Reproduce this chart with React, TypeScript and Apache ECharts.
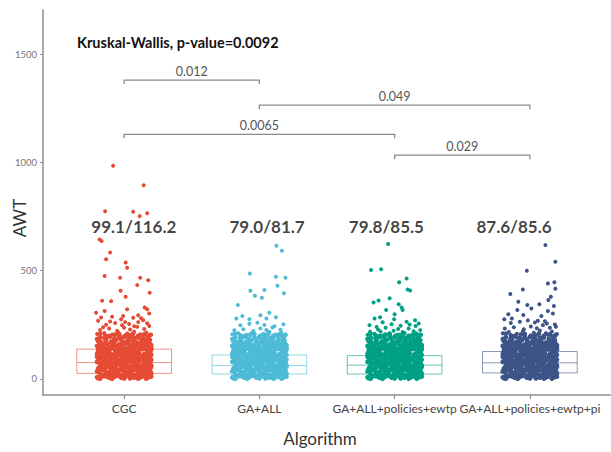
import React, { useEffect, useRef } from 'react';
import * as echarts from 'echarts';

// ---------- data ----------
const categories = ['CGC', 'GA+ALL', 'GA+ALL+policies+ewtp', 'GA+ALL+policies+ewtp+pi'];
const colors = ['#E64B35', '#4DBBD5', '#00A087', '#3C5488'];

// box statistics per category: [q1, median, q3]
const boxQ1 = [25, 22, 22, 27];
const boxMedian = [75, 61, 63, 74];
const boxQ3 = [137, 110, 107, 126];

// mean/median annotations
const statLabels = ['99.1/116.2', '79.0/81.7', '79.8/85.5', '87.6/85.6'];
const statLabelX = [1.072, 2.057, 2.939, 3.883];
const statLabelY = [704, 704, 704, 704];

// pairwise comparison brackets: from category, to category, height, p-value text
const bracketFrom = [1, 2, 1, 3];
const bracketTo = [2, 4, 3, 4];
const bracketY = [1381, 1265, 1130, 1034];
const bracketText = ['0.012', '0.049', '0.0065', '0.029'];

const kruskalText = 'Kruskal-Wallis, p-value=0.0092';

// jitter values are expressed in 1/135 of a category step
const JIT = 0.2 / 27;

// dense core of AWT observations (jitter, AWT), layer 1
const denseJ = [
  -26, -22, -16, -12, -8, -3, 1, 6, 11, 16, 22, 27,
  -24, -20, -17, -11, -6, -1, 3, 8, 13, 18, 21, 25,
  -27, -21, -15, -10, -7, -2, 2, 7, 12, 15, 20, 26,
  -25, -19, -14, -9, -4, 0, 5, 9, 14, 19, 23, 27,
  -24, -20, -17, -11, -6, -1, 3, 8, 13, 18, 21, 25,
  -27, -21, -15, -10, -7, -2, 2, 7, 12, 15, 20, 26,
  -25, -19, -14, -9, -4, 0, 5, 9, 14, 19, 23, 27,
  -26, -22, -16, -12, -8, -3, 1, 6, 11, 16, 22, 27,
  -27, -21, -15, -10, -7, -2, 2, 7, 12, 15, 20, 26,
  -25, -19, -14, -9, -4, 0, 5, 9, 14, 19, 23, 27,
  -26, -22, -16, -12, -8, -3, 1, 6, 11, 16, 22, 27,
  -24, -20, -17, -11, -6, -1, 3, 8, 13, 18, 21, 25,
];
const denseY = [
  3, 11, 7, 0, 13, 5, 9, 2, 12, 6, 1, 10,
  22, 15, 26, 19, 24, 17, 27, 21, 14, 25, 18, 23,
  34, 41, 30, 37, 32, 39, 28, 36, 40, 31, 38, 33,
  52, 46, 50, 55, 43, 49, 53, 45, 51, 42, 48, 54,
  59, 67, 63, 56, 69, 61, 65, 58, 68, 62, 57, 66,
  78, 71, 82, 75, 80, 73, 83, 77, 70, 81, 74, 79,
  90, 97, 86, 93, 88, 95, 84, 92, 96, 87, 94, 89,
  108, 102, 106, 111, 99, 105, 109, 101, 107, 98, 104, 110,
  115, 123, 119, 112, 125, 117, 121, 114, 124, 118, 113, 122,
  134, 127, 138, 131, 136, 129, 139, 133, 126, 137, 130, 135,
  146, 153, 142, 149, 144, 151, 140, 148, 152, 143, 150, 145,
  164, 158, 162, 167, 155, 161, 165, 157, 163, 154, 160, 166,
];
// dense core, layer 2
const dense2J = [
  -27, -24, -19, -14, -10, -5, 0, 5, 10, 14, 19, 24,
  -23, -18, -13, -9, -4, 0, 4, 10, 15, 19, 24, 27,
  -24, -19, -15, -9, -5, 1, 5, 9, 14, 20, 23, 26,
  -26, -23, -18, -13, -8, -3, 2, 6, 11, 17, 23, 25,
  -23, -18, -13, -9, -4, 0, 4, 10, 15, 19, 24, 27,
  -24, -19, -15, -9, -5, 1, 5, 9, 14, 20, 23, 26,
  -26, -23, -18, -13, -8, -3, 2, 6, 11, 17, 23, 25,
  -27, -24, -19, -14, -10, -5, 0, 5, 10, 14, 19, 24,
  -24, -19, -15, -9, -5, 1, 5, 9, 14, 20, 23, 26,
  -26, -23, -18, -13, -8, -3, 2, 6, 11, 17, 23, 25,
  -27, -24, -19, -14, -10, -5, 0, 5, 10, 14, 19, 24,
  -23, -18, -13, -9, -4, 0, 4, 10, 15, 19, 24, 27,
  -26, -23, -18, -13, -8, -3, 2, 6, 11, 17, 23, 25,
  -27, -24, -19, -14, -10, -5, 0, 5, 10, 14, 19, 24,
  -24, -19, -15, -9, -5, 1, 5, 9, 14, 20, 23, 26,
];
const dense2Y = [
  7, 0, 12, 4, 9, 13, 2, 10, 5, 1, 11, 6,
  16, 23, 19, 27, 14, 22, 25, 18, 21, 26, 17, 24,
  40, 33, 29, 36, 39, 31, 34, 41, 30, 37, 28, 35,
  46, 52, 55, 43, 48, 54, 50, 42, 53, 47, 51, 44,
  63, 56, 68, 60, 65, 69, 58, 66, 61, 57, 67, 62,
  72, 79, 75, 83, 70, 78, 81, 74, 77, 82, 73, 80,
  96, 89, 85, 92, 95, 87, 90, 97, 86, 93, 84, 91,
  102, 108, 111, 99, 104, 110, 106, 98, 109, 103, 107, 100,
  119, 112, 124, 116, 121, 125, 114, 122, 117, 113, 123, 118,
  128, 135, 131, 139, 126, 134, 137, 130, 133, 138, 129, 136,
  152, 145, 141, 148, 151, 143, 146, 153, 142, 149, 140, 147,
  158, 164, 167, 155, 160, 166, 162, 154, 165, 159, 163, 156,
  175, 168, 180, 172, 177, 181, 170, 178, 173, 169, 179, 174,
  184, 191, 187, 195, 182, 190, 193, 186, 189, 194, 185, 192,
  208, 201, 197, 204, 207, 199, 202, 209, 198, 205, 196, 203,
];

// upper tail of each category (jitter, AWT)
const cgcUpper = [
  [-25, 172], [-19, 178], [-13, 170], [-8, 183], [-2, 175], [4, 180], [9, 171], [15, 186], [21, 174], [26, 181],
  [-23, 190], [-16, 195], [-10, 188], [-4, 199], [1, 192], [7, 197], [12, 190], [18, 201], [24, 193],
  [-27, 207], [-20, 212], [-12, 205], [-6, 215], [3, 209], [10, 218], [16, 206], [22, 214], [27, 204],
  [-24, 226], [-15, 232], [-7, 222], [0, 236], [6, 228], [13, 240], [20, 230], [25, 244],
  [-18, 250], [-9, 258], [5, 253], [14, 262], [-26, 268], [19, 271], [-3, 275], [9, 282], [-12, 287],
  [-21, 238], [-2, 247], [10, 243], [23, 257], [-14, 265], [1, 262], [-23, 283], [17, 280],
  [-11, 985], [19.5, 895], [-19, 775], [9, 772], [23, 765], [15.5, 752], [-24.5, 644], [-22.5, 637],
  [-14, 584], [-18, 553], [1.5, 538], [3, 513], [-19.5, 475], [-4, 467], [16, 467], [24, 456], [13, 433],
  [-3.5, 407], [25.5, 398], [1.5, 379], [-22, 361], [-13, 359], [20.5, 330], [25, 302], [3, 321],
  [-28, 305], [-19.5, 313], [23, 321], [14, 294], [-1, 290],
];
const gaUpper = [
  [-26, 170], [-20, 176], [-14, 168], [-9, 181], [-3, 173], [2, 179], [8, 170], [14, 184], [19, 175], [25, 182],
  [-24, 189], [-17, 194], [-11, 187], [-5, 198], [0, 191], [6, 196], [11, 188], [17, 200], [23, 192],
  [-27, 206], [-21, 211], [-13, 204], [-7, 214], [4, 208], [10, 217], [16, 205], [22, 213], [26, 203],
  [-25, 224], [-16, 229], [-6, 221], [1, 233], [7, 226], [13, 237], [21, 227],
  [-19, 247], [-10, 254], [5, 249], [15, 243], [-2, 259], [24, 252],
  [17, 615], [22.5, 592], [-9.5, 487], [16.5, 472], [26, 467], [18, 430], [5, 410], [-9, 407],
  [24.5, 395], [-4.5, 384], [2.5, 375], [-21.5, 341], [-23, 279], [-17, 290], [1, 294], [10, 305],
  [16.5, 284], [-10, 275], [7, 279],
];
const ewtpUpper = [
  [-25, 169], [-19, 175], [-13, 171], [-8, 180], [-2, 174], [4, 178], [9, 169], [15, 183], [21, 172], [26, 179],
  [-23, 188], [-16, 192], [-10, 186], [-4, 196], [1, 190], [7, 194], [12, 187], [18, 197], [24, 190],
  [-27, 203], [-20, 208], [-11, 201], [-5, 210], [3, 205], [10, 212], [17, 202], [22, 209],
  [-14, 218], [-1, 222], [8, 216], [19, 220],
  [-18, 240], [6, 245], [-9, 236], [14, 232], [-25, 248], [21, 244], [0, 298], [-3, 252],
  [-6.5, 623], [-23.5, 503], [-13.5, 506], [12, 464], [4.5, 446], [13, 413], [15.5, 408], [-21, 353],
  [-16, 362], [-5, 372], [4, 345], [7, 330], [8, 318], [-8.5, 318], [-20, 279], [-14.5, 284],
  [-0.5, 275], [-12, 261], [12, 264], [20.5, 271], [24, 256], [15, 251], [-24.5, 217], [-16.5, 228],
  [3.5, 230], [25.5, 225], [23, 201],
];
const piUpper = [
  [-26, 172], [-20, 178], [-14, 170], [-8, 184], [-3, 176], [3, 181], [8, 172], [14, 187], [20, 175], [25, 183],
  [-24, 192], [-17, 197], [-11, 190], [-5, 202], [1, 194], [6, 199], [12, 191], [18, 204], [23, 195],
  [-27, 210], [-21, 216], [-13, 208], [-7, 220], [4, 213], [10, 223], [16, 211], [22, 219], [27, 207],
  [-25, 232], [-16, 238], [-6, 229], [1, 242], [7, 234], [13, 248], [20, 236], [25, 251],
  [-19, 258], [-10, 264], [5, 260], [15, 266], [-2, 270],
  [15.5, 618], [25.5, 541], [-3, 499], [18, 441], [24.5, 446], [25.5, 416], [-7, 413], [-19.5, 392],
  [21, 379], [18.5, 364], [-11.5, 356], [9.5, 345], [-2.5, 341], [24, 336], [1.5, 325], [-12.5, 318],
  [18, 313], [-21.5, 298], [-25.5, 275], [-18, 279], [-6.5, 295], [11.5, 290], [23, 302], [8, 268],
  [17, 256], [26, 241],
];
const uppers = [cgcUpper, gaUpper, ewtpUpper, piUpper];

const yTicks = [0, 500, 1000, 1500];
const xTicks = [1, 2, 3, 4];

const FONT = 'Lato, "Open Sans", sans-serif';
const BOX_HALF = 0.35;

function buildOption() {
  const denseSeries = categories.map((name, g) => {
    const pts: number[][] = [];
    for (let i = 0; i < denseY.length; i++) pts.push([g + 1 + denseJ[i] * JIT, denseY[i]]);
    for (let i = 0; i < dense2Y.length; i++) pts.push([g + 1 + dense2J[i] * JIT, dense2Y[i]]);
    return {
      name,
      type: 'scatter',
      data: pts,
      symbolSize: 4.8,
      itemStyle: { color: colors[g], opacity: 1 },
      z: 3,
      silent: true,
    };
  });
  const upperSeries = categories.map((name, g) => ({
    name,
    type: 'scatter',
    data: uppers[g].map(([j, y]) => [g + 1 + j * JIT, y]),
    symbolSize: 4,
    itemStyle: { color: colors[g], opacity: 1 },
    z: 3,
    silent: true,
  }));

  const boxData = categories.map((_, g) => [g + 1, boxQ1[g], boxMedian[g], boxQ3[g]]);
  const bracketData = bracketY.map((y, i) => [bracketFrom[i], bracketTo[i], y]);

  return {
    animation: false,
    backgroundColor: '#ffffff',
    grid: { left: 43, top: 10, width: 569, height: 385 },
    xAxis: {
      type: 'value',
      min: 0.4,
      max: 4.6,
      axisLine: { show: true, onZero: false, lineStyle: { color: '#8f8f8f', width: 1.5 } },
      axisTick: { show: true, customValues: xTicks, length: 4, lineStyle: { color: '#8f8f8f', width: 1.2 } },
      axisLabel: {
        customValues: xTicks,
        formatter: (v: number) => categories[Math.round(v) - 1] || '',
        color: '#444',
        fontSize: 12,
        fontFamily: FONT,
        margin: 7,
        hideOverlap: false,
      },
      splitLine: { show: false },
    },
    yAxis: {
      type: 'value',
      min: -75,
      max: 1705,
      axisLine: { show: true, lineStyle: { color: '#8f8f8f', width: 1.5 } },
      axisTick: { show: true, customValues: yTicks, length: 3, lineStyle: { color: '#8f8f8f', width: 1 } },
      axisLabel: {
        customValues: yTicks,
        formatter: (v: number) => String(v),
        color: '#777',
        fontSize: 9.5,
        fontFamily: FONT,
        margin: 6,
      },
      splitLine: { show: false },
    },
    graphic: [
      {
        type: 'text',
        left: 77,
        top: 35,
        style: { text: kruskalText, fontSize: 14.5, fontWeight: 'bold', fontFamily: FONT, fill: '#111' },
      },
      {
        type: 'text',
        x: 19,
        y: 218,
        rotation: Math.PI / 2,
        style: {
          text: 'AWT',
          fontSize: 17,
          fontFamily: FONT,
          fill: '#333',
          align: 'center',
          verticalAlign: 'middle',
        },
      },
      {
        type: 'text',
        x: 320,
        y: 438,
        style: {
          text: 'Algorithm',
          fontSize: 17,
          fontFamily: FONT,
          fill: '#333',
          align: 'center',
          verticalAlign: 'middle',
        },
      },
    ],
    series: [
      {
        type: 'custom',
        z: 1,
        silent: true,
        data: boxData,
        renderItem: (params: any, api: any) => {
          const x = api.value(0);
          const q1 = api.value(1);
          const med = api.value(2);
          const q3 = api.value(3);
          const c = colors[params.dataIndex];
          const tl = api.coord([x - BOX_HALF, q3]);
          const br = api.coord([x + BOX_HALF, q1]);
          const ml = api.coord([x - BOX_HALF, med]);
          const mr = api.coord([x + BOX_HALF, med]);
          return {
            type: 'group',
            children: [
              {
                type: 'rect',
                shape: { x: tl[0], y: tl[1], width: br[0] - tl[0], height: br[1] - tl[1] },
                style: { fill: 'none', stroke: c, lineWidth: 1, opacity: 0.6 },
              },
              {
                type: 'line',
                shape: { x1: ml[0], y1: ml[1], x2: mr[0], y2: mr[1] },
                style: { stroke: c, lineWidth: 1, opacity: 0.6 },
              },
            ],
          };
        },
      },
      ...denseSeries,
      ...upperSeries,
      {
        type: 'custom',
        z: 5,
        silent: true,
        data: bracketData,
        renderItem: (params: any, api: any) => {
          const p1 = api.coord([api.value(0), api.value(2)]);
          const p2 = api.coord([api.value(1), api.value(2)]);
          const t = 4;
          return {
            type: 'group',
            children: [
              {
                type: 'polyline',
                shape: { points: [[p1[0], p1[1] + t], [p1[0], p1[1]], [p2[0], p2[1]], [p2[0], p2[1] + t]] },
                style: { fill: 'none', stroke: '#8a8a8a', lineWidth: 1.3 },
              },
              {
                type: 'text',
                x: (p1[0] + p2[0]) / 2,
                y: p1[1] - 2,
                style: {
                  text: bracketText[params.dataIndex],
                  fontSize: 12.5,
                  fontFamily: FONT,
                  fill: '#555',
                  align: 'center',
                  verticalAlign: 'bottom',
                },
              },
            ],
          };
        },
      },
      {
        type: 'scatter',
        z: 6,
        silent: true,
        symbolSize: 0,
        data: statLabels.map((t, i) => ({ name: t, value: [statLabelX[i], statLabelY[i]] })),
        label: {
          show: true,
          position: 'inside',
          formatter: '{b}',
          fontSize: 17,
          fontWeight: 'bold',
          fontFamily: FONT,
          color: '#111',
        },
      },
    ],
  };
}

export default function App() {
  const ref = useRef<HTMLDivElement>(null);
  useEffect(() => {
    if (!ref.current) return;
    const chart = echarts.init(ref.current, null, { renderer: 'svg' });
    chart.setOption(buildOption() as any);
    return () => chart.dispose();
  }, []);
  return (
    <div
      ref={ref}
      style={{ position: 'fixed', left: 0, top: 0, width: 611, height: 452, background: '#fff' }}
    />
  );
}
